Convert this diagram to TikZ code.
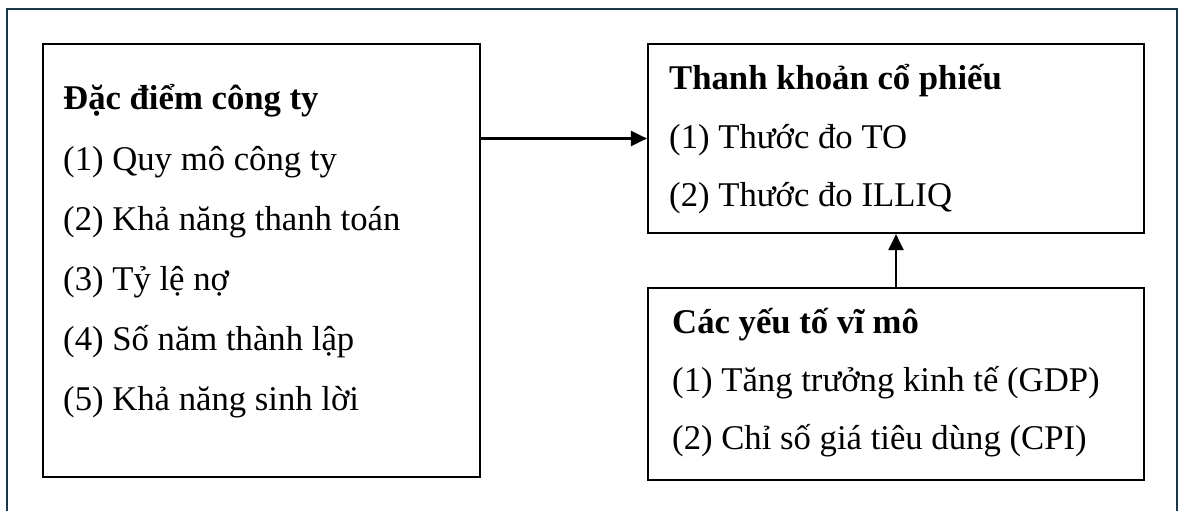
\documentclass[tikz,border=0pt]{standalone}
\usepackage{fontspec}
\setmainfont{Liberation Serif}
\usetikzlibrary{arrows.meta}
\definecolor{framecol}{RGB}{24,56,72}
\tikzset{
  box/.style={draw=black, line width=2.2pt, inner sep=0pt},
  txt/.style={anchor=base west, inner sep=0pt, font=\fontsize{34.7pt}{40pt}\selectfont},
  ttl/.style={txt, font=\fontsize{34.7pt}{40pt}\selectfont\bfseries},
  arr/.style={line width=2.2pt, -{Triangle[length=16pt,width=15pt]}},
  frame/.style={draw=framecol, line width=2.6pt}
}
\begin{document}
\begin{tikzpicture}[x=1pt,y=-1pt]
\useasboundingbox (0,0) rectangle (1179,511);
\draw[frame] (7,511) -- (7,9) -- (1177,9) -- (1177,511);

\node[box, minimum width=437pt, minimum height=433pt] (firm) at (261.5,260.5) {};
\node[box, minimum width=496pt, minimum height=189pt] (liq) at (896,138.5) {};
\node[box, minimum width=496pt, minimum height=192pt] (macro) at (896,384) {};

\node[ttl] (f0) at (63,110) {Đặc điểm công ty};
\node[txt] (f1) at (63,170) {(1) Quy mô công ty};
\node[txt] (f2) at (63,230) {(2) Khả năng thanh toán};
\node[txt] (f3) at (63,290) {(3) Tỷ lệ nợ};
\node[txt] (f4) at (63,350) {(4) Số năm thành lập};
\node[txt] (f5) at (63,410) {(5) Khả năng sinh lời};

\node[ttl] (l0) at (669,90) {Thanh khoản cổ phiếu};
\node[txt] (l1) at (669,148) {(1) Thước đo TO};
\node[txt] (l2) at (669,206) {(2) Thước đo ILLIQ};

\node[ttl] (m0) at (672,333) {Các yếu tố vĩ mô};
\node[txt] (m1) at (672,391) {(1) Tăng trưởng kinh tế (GDP)};
\node[txt] (m2) at (672,449) {(2) Chỉ số giá tiêu dùng (CPI)};

\draw[arr] (firm.east |- liq.west) -- (liq.west);
\draw[arr] (macro.north) -- (liq.south);
\end{tikzpicture}
\end{document}
